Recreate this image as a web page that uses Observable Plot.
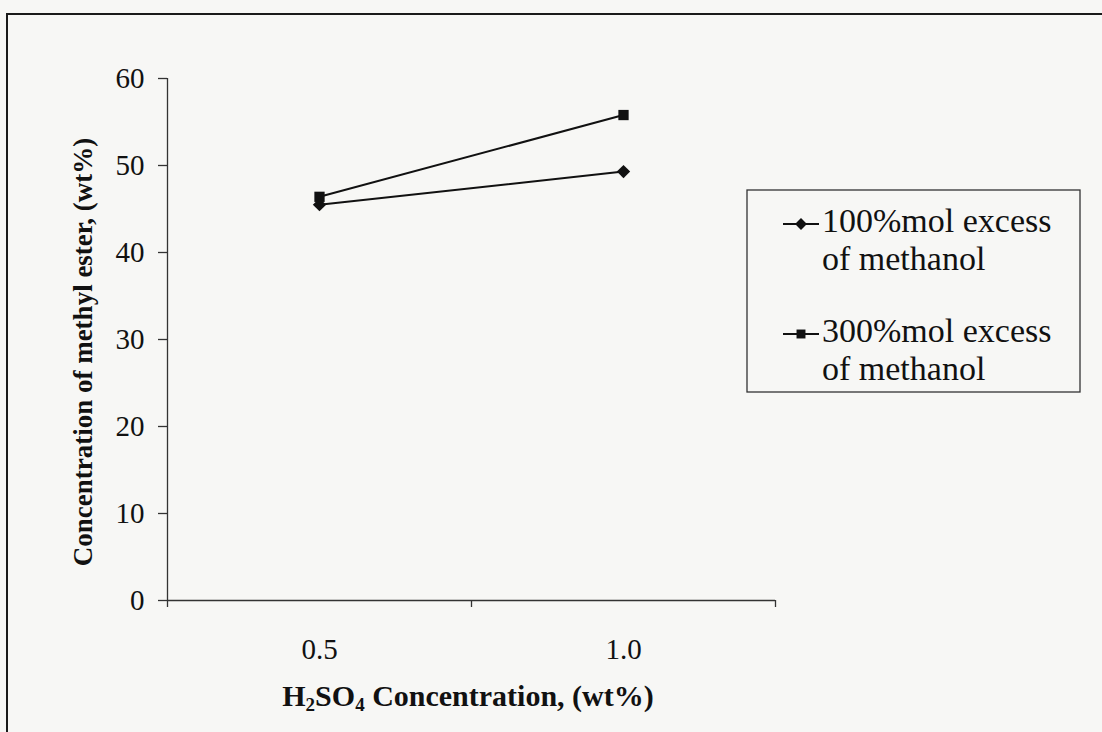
<!DOCTYPE html>
<html>
<head>
<meta charset="utf-8">
<script src="https://cdn.jsdelivr.net/npm/d3@7"></script>
<script src="https://cdn.jsdelivr.net/npm/@observablehq/plot@0.6"></script>
<style>
  html, body { margin: 0; padding: 0; background: #f7f7f5; overflow: hidden; }
  #wrap { position: relative; width: 1102px; height: 732px; overflow: hidden; }
  #frame { position: absolute; left: 6px; top: 13px; width: 1200px; height: 800px; border: 2.5px solid #1a1a1a; box-sizing: border-box; pointer-events: none; }
  #chart { position: absolute; left: 0; top: 0; }
</style>
</head>
<body>
<div id="wrap"><div id="chart"></div><div id="frame"></div></div>
<script>
// Data
const categories = ["0.5", "1.0"];
const seriesNames = ["100%mol excess of methanol", "300%mol excess of methanol"];
const values100 = [45.5, 49.3];
const values300 = [46.4, 55.8];
const yTicks = [0, 10, 20, 30, 40, 50, 60];

const rows = [];
categories.forEach((c, i) => {
  rows.push({idx: i + 1, cat: c, series: seriesNames[0], value: values100[i]});
  rows.push({idx: i + 1, cat: c, series: seriesNames[1], value: values300[i]});
});
const boundaries = d3.range(0.5, categories.length + 1, 1);

const serif = "'Liberation Serif', 'Times New Roman', serif";

const plot = Plot.plot({
  width: 1102,
  height: 732,
  marginLeft: 167,
  marginRight: 327,
  marginTop: 78,
  marginBottom: 132,
  style: {background: "transparent", fontFamily: serif, color: "#111", fontSize: "29px"},
  x: {type: "linear", domain: [0.5, categories.length + 0.5]},
  y: {domain: [0, 60]},
  marks: [
    Plot.axisY({ticks: yTicks, tickSize: 9, tickPadding: 14, fontSize: 29, stroke: "#333", strokeWidth: 1.3, label: null}),
    Plot.axisX({ticks: boundaries, tickSize: 7, tickFormat: () => "", stroke: "#333", strokeWidth: 1.3, label: null}),
    Plot.axisX({ticks: categories.map((c, i) => i + 1), tickSize: 0, tickPadding: 38, fontSize: 29, tickFormat: i => categories[i - 1], label: null}),
    Plot.ruleX([0.5], {stroke: "#333", strokeWidth: 1.3}),
    Plot.ruleY([0], {stroke: "#333", strokeWidth: 1.3}),
    Plot.line(rows, {x: "idx", y: "value", z: "series", stroke: "#111", strokeWidth: 2}),
    Plot.dot(rows.filter(d => d.series === seriesNames[1]), {x: "idx", y: "value", symbol: "square", r: 5.8, fill: "#111", stroke: "none"}),
    Plot.dot(rows.filter(d => d.series === seriesNames[0]), {x: "idx", y: "value", symbol: "diamond2", r: 6, fill: "#111", stroke: "none"})
  ]
});

const svg = d3.select(plot);

// Axis titles
svg.append("text")
  .attr("transform", "translate(86,352) rotate(-90)")
  .attr("text-anchor", "middle")
  .attr("dominant-baseline", "middle")
  .attr("font-family", serif).attr("font-weight", "bold").attr("font-size", 27).attr("fill", "#111")
  .text("Concentration of methyl ester, (wt%)");

const xt = svg.append("text")
  .attr("x", 468).attr("y", 706)
  .attr("text-anchor", "middle")
  .attr("font-family", serif).attr("font-weight", "bold").attr("font-size", 30).attr("fill", "#111");
xt.append("tspan").text("H");
xt.append("tspan").attr("font-size", 19).attr("dy", 5).text("2");
xt.append("tspan").attr("dy", -5).text("SO");
xt.append("tspan").attr("font-size", 19).attr("dy", 5).text("4");
xt.append("tspan").attr("dy", -5).text(" Concentration, (wt%)");

// Legend
const lg = svg.append("g");
lg.append("rect").attr("x", 747).attr("y", 190).attr("width", 333).attr("height", 202)
  .attr("fill", "none").attr("stroke", "#333").attr("stroke-width", 1.3);
const legendItems = [
  {lines: ["100%mol excess", "of methanol"], sym: d3.symbolDiamond2, size: 90, y: 224},
  {lines: ["300%mol excess", "of methanol"], sym: d3.symbolSquare, size: 80, y: 334}
];
legendItems.forEach(it => {
  lg.append("line").attr("x1", 783).attr("x2", 819).attr("y1", it.y).attr("y2", it.y)
    .attr("stroke", "#111").attr("stroke-width", 2);
  lg.append("path").attr("d", d3.symbol(it.sym, it.size)()).attr("transform", `translate(801,${it.y})`).attr("fill", "#111");
  it.lines.forEach((t, j) => {
    lg.append("text").attr("x", 822).attr("y", it.y + j * 38)
      .attr("text-anchor", "start")
      .attr("dominant-baseline", "middle")
      .attr("font-family", serif).attr("font-size", 34).attr("fill", "#111")
      .text(t);
  });
});

document.getElementById("chart").appendChild(plot);
</script>
</body>
</html>
